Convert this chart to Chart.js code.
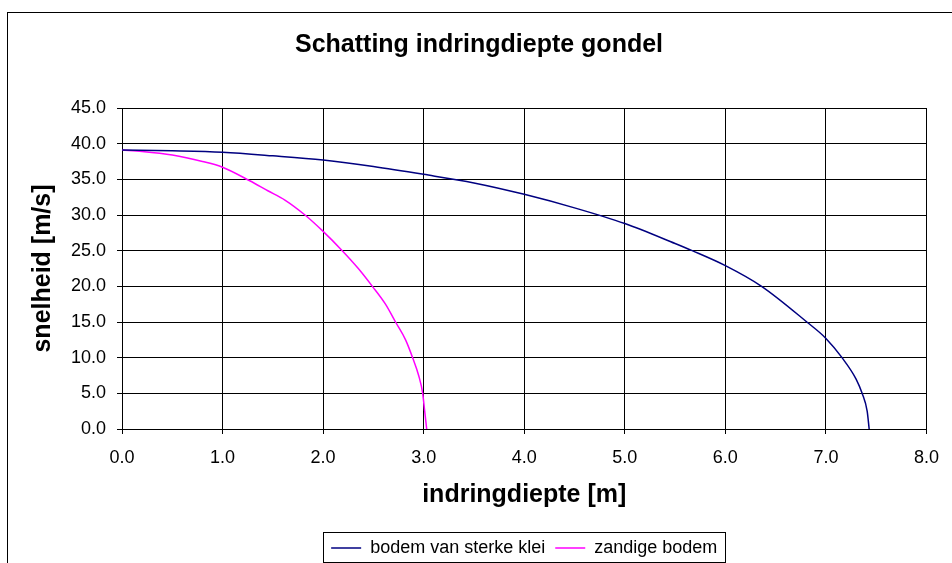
<!DOCTYPE html>
<html>
<head>
<meta charset="utf-8">
<title>Schatting indringdiepte gondel</title>
<script src="https://cdn.jsdelivr.net/npm/chart.js@4"></script>
<style>
  html, body { margin: 0; padding: 0; background: #fff; }
  #wrap { width: 952px; height: 563px; }
</style>
</head>
<body>
<div id="wrap"><canvas id="myChart" width="952" height="563"></canvas></div>
<script>
// indringdiepte [m] en snelheid [m/s] per bodemsoort
const kleiDiepte = [0, 0.5, 1.0, 1.5, 2.0, 2.5, 3.0, 3.5, 4.0, 4.5, 5.0, 5.5, 5.67, 6.0, 6.36, 6.81, 7.0, 7.16, 7.30, 7.36, 7.41, 7.43];
const kleiSnelheid = [39.1, 39.0, 38.8, 38.3, 37.7, 36.8, 35.7, 34.5, 32.9, 31.0, 28.8, 26.0, 25.0, 22.9, 20.0, 15.0, 12.7, 10.0, 7.0, 5.0, 2.5, 0];

const zandDiepte = [0, 0.2, 0.5, 0.8, 1.0, 1.27, 1.45, 1.62, 1.82, 2.0, 2.19, 2.35, 2.49, 2.62, 2.72, 2.82, 2.89, 2.95, 2.99, 3.01, 3.03];
const zandSnelheid = [39.1, 38.9, 38.4, 37.5, 36.7, 34.8, 33.4, 32.1, 30.0, 27.7, 25.0, 22.5, 20.0, 17.5, 15.0, 12.5, 10.0, 7.5, 5.0, 2.5, 0];

const reeksNamen = ['bodem van sterke klei', 'zandige bodem'];
const xTicks = [0, 1, 2, 3, 4, 5, 6, 7, 8];
const yTicks = [0, 5, 10, 15, 20, 25, 30, 35, 40, 45];

const FONT = "'Liberation Sans', Arial, sans-serif";

function punten(xs, ys) {
  return xs.map((x, i) => ({ x: x, y: ys[i] }));
}

// rand om de hele grafiek en om de legenda
const randen = {
  id: 'randen',
  beforeDraw(chart) {
    const c = chart.ctx;
    c.save();
    c.fillStyle = '#fff';
    c.fillRect(0, 0, chart.width, chart.height);
    c.strokeStyle = '#000';
    c.lineWidth = 1;
    c.strokeRect(7.5, 12.5, chart.width + 20, chart.height + 20);
    c.restore();
  },
  afterDraw(chart) {
    const boxes = chart.legend.legendHitBoxes;
    if (!boxes || !boxes.length) return;
    const first = boxes[0], last = boxes[boxes.length - 1];
    const midY = first.top + first.height / 2;
    const c = chart.ctx;
    c.save();
    c.strokeStyle = '#000';
    c.lineWidth = 1;
    const l = Math.round(first.left - 8) + 0.5;
    const r = Math.round(last.left + last.width + 8) + 0.5;
    const t = Math.round(midY - 16) + 0.5;
    c.strokeRect(l, t, r - l, 30);
    c.restore();
  }
};

const ctx = document.getElementById('myChart');
const myChart = new Chart(ctx, {
  type: 'line',
  data: {
    datasets: [{
      label: reeksNamen[0],
      data: punten(kleiDiepte, kleiSnelheid),
      borderColor: '#000080',
      backgroundColor: '#000080',
      borderWidth: 1.5,
      pointRadius: 0,
      cubicInterpolationMode: 'monotone'
    }, {
      label: reeksNamen[1],
      data: punten(zandDiepte, zandSnelheid),
      borderColor: '#ff00ff',
      backgroundColor: '#ff00ff',
      borderWidth: 1.5,
      pointRadius: 0,
      cubicInterpolationMode: 'monotone'
    }]
  },
  options: {
    responsive: false,
    animation: false,
    devicePixelRatio: 1,
    layout: { padding: { top: 0, left: 28, right: 22, bottom: -4 } },
    plugins: {
      title: {
        display: true,
        text: 'Schatting indringdiepte gondel',
        color: '#000',
        font: { family: FONT, size: 25, weight: 'bold' },
        padding: { top: 30, bottom: 48 }
      },
      legend: {
        display: true,
        position: 'bottom',
        fullSize: false,
        labels: {
          color: '#000',
          font: { family: FONT, size: 18 },
          usePointStyle: true,
          pointStyle: 'line',
          pointStyleWidth: 30,
          padding: 10
        }
      },
      tooltip: { enabled: false }
    },
    scales: {
      x: {
        type: 'linear',
        min: 0,
        max: 8,
        afterBuildTicks(scale) { scale.ticks = xTicks.map(v => ({ value: v })); },
        afterFit(scale) { scale.height = 100; },
        ticks: {
          color: '#000',
          font: { family: FONT, size: 18 },
          padding: 13,
          callback: v => v.toFixed(1)
        },
        grid: { color: '#000', lineWidth: 1, tickLength: 5 },
        border: { color: '#000' },
        title: {
          display: true,
          text: 'indringdiepte [m]',
          color: '#000',
          font: { family: FONT, size: 25, weight: 'bold' },
          padding: { top: 0, bottom: 19 }
        }
      },
      y: {
        type: 'linear',
        min: 0,
        max: 45,
        afterBuildTicks(scale) { scale.ticks = yTicks.map(v => ({ value: v })); },
        afterFit(scale) { scale.width = 94; },
        ticks: {
          color: '#000',
          font: { family: FONT, size: 18 },
          padding: 11,
          callback: v => v.toFixed(1)
        },
        grid: { color: '#000', lineWidth: 1, tickLength: 5 },
        border: { color: '#000' },
        title: {
          display: true,
          text: 'snelheid [m/s]',
          color: '#000',
          font: { family: FONT, size: 25, weight: 'bold' },
          padding: { top: 0, bottom: 0 }
        }
      }
    }
  },
  plugins: [randen]
});
</script>
</body>
</html>
